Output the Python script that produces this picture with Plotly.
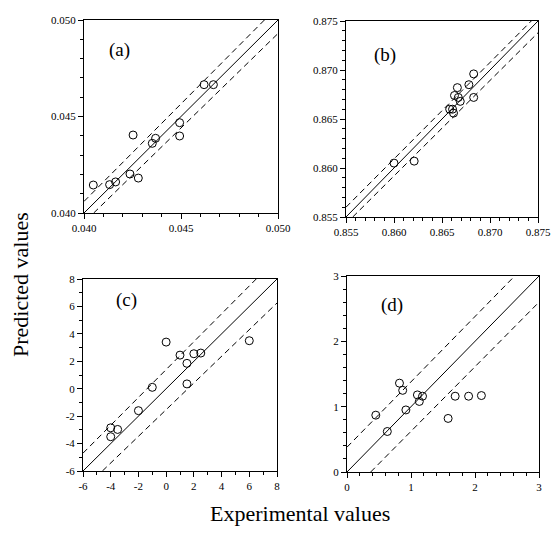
import numpy as np
import plotly.graph_objects as go

# ---------------- data ----------------
a_exp = [0.04048, 0.04132, 0.04163, 0.04237, 0.04280, 0.04253, 0.04352, 0.04369, 0.04493, 0.04493, 0.04619, 0.04667]
a_pred = [0.04145, 0.04147, 0.04161, 0.04202, 0.04181, 0.04404, 0.04361, 0.04387, 0.04468, 0.04399, 0.04665, 0.04665]
a_upper_x = [0.0400, 0.0493]
a_upper_y = [0.0406, 0.0500]
a_lower_x = [0.0405, 0.0500]
a_lower_y = [0.0400, 0.0493]

b_exp = [0.8600, 0.8621, 0.8658, 0.8661, 0.8662, 0.8663, 0.8666, 0.8667, 0.8669, 0.8678, 0.8683, 0.8683]
b_pred = [0.8605, 0.8607, 0.8660, 0.8660, 0.8656, 0.8674, 0.8682, 0.8672, 0.8668, 0.8685, 0.8696, 0.8672]
b_upper_x = [0.8550, 0.8743]
b_upper_y = [0.8560, 0.8750]
b_lower_x = [0.8557, 0.8750]
b_lower_y = [0.8550, 0.8738]

c_exp = [0.0, 6.0, 1.0, 2.0, 2.5, 1.5, 1.5, -1.0, -2.0, -4.0, -3.5, -4.0]
c_pred = [3.4, 3.5, 2.45, 2.55, 2.6, 1.85, 0.35, 0.1, -1.6, -2.85, -2.97, -3.5]
c_upper_x = [-6.0, 6.5]
c_upper_y = [-4.7, 8.0]
c_lower_x = [-4.6, 8.0]
c_lower_y = [-6.0, 6.25]

d_exp = [0.82, 0.87, 1.10, 1.18, 1.13, 0.92, 0.45, 0.63, 1.58, 1.69, 1.90, 2.10]
d_pred = [1.36, 1.25, 1.18, 1.16, 1.08, 0.95, 0.87, 0.62, 0.82, 1.16, 1.16, 1.17]
d_upper_x = [0.0, 2.62]
d_upper_y = [0.38, 3.0]
d_lower_x = [0.37, 3.0]
d_lower_y = [0.0, 2.6]

a_range = [0.040, 0.050]
a_ticks = [0.040, 0.045, 0.050]
a_ticktext = ["0.040", "0.045", "0.050"]
b_range = [0.855, 0.875]
b_ticks = [0.855, 0.860, 0.865, 0.870, 0.875]
b_ticktext = ["0.855", "0.860", "0.865", "0.870", "0.875"]
c_range = [-6, 8]
c_ticks = [-6, -4, -2, 0, 2, 4, 6, 8]
c_ticktext = ["-6", "-4", "-2", "0", "2", "4", "6", "8"]
d_range = [0, 3]
d_ticks = [0, 1, 2, 3]
d_ticktext = ["0", "1", "2", "3"]

panel_labels = ["(a)", "(b)", "(c)", "(d)"]
x_title = "Experimental values"
y_title = "Predicted values"

# ---------------- figure ----------------
W, H = 553, 533
FONT = "Liberation Serif"

panels = [
    dict(exp=a_exp, pred=a_pred, ux=a_upper_x, uy=a_upper_y, lx=a_lower_x, ly=a_lower_y,
         rng=a_range, ticks=a_ticks, tt=a_ticktext, minor=0.001,
         px=(84, 278), py=(20, 213), lab=(107, 50)),
    dict(exp=b_exp, pred=b_pred, ux=b_upper_x, uy=b_upper_y, lx=b_lower_x, ly=b_lower_y,
         rng=b_range, ticks=b_ticks, tt=b_ticktext, minor=0.001,
         px=(346, 538), py=(21, 217), lab=(372, 55)),
    dict(exp=c_exp, pred=c_pred, ux=c_upper_x, uy=c_upper_y, lx=c_lower_x, ly=c_lower_y,
         rng=c_range, ticks=c_ticks, tt=c_ticktext, minor=1,
         px=(83, 277), py=(279, 471), lab=(114, 300)),
    dict(exp=d_exp, pred=d_pred, ux=d_upper_x, uy=d_upper_y, lx=d_lower_x, ly=d_lower_y,
         rng=d_range, ticks=d_ticks, tt=d_ticktext, minor=0.2,
         px=(347, 539), py=(276, 472), lab=(379, 305)),
]


def fx(px):
    return px / W


def fy(py):
    return 1 - py / H


fig = go.Figure()
layout = dict(
    width=W, height=H,
    margin=dict(l=0, r=0, t=0, b=0, autoexpand=False),
    paper_bgcolor="white", plot_bgcolor="white",
    showlegend=False,
    font=dict(family=FONT, color="black"),
)
annotations = []

for i, p in enumerate(panels):
    n = "" if i == 0 else str(i + 1)
    xa, ya = "x" + n, "y" + n
    lo, hi = p["rng"]
    fig.add_trace(go.Scatter(x=p["rng"], y=p["rng"], mode="lines",
                             line=dict(color="black", width=1), xaxis=xa, yaxis=ya,
                             hoverinfo="skip"))
    fig.add_trace(go.Scatter(x=p["ux"], y=p["uy"], mode="lines",
                             line=dict(color="black", width=1, dash="6px,4px"),
                             xaxis=xa, yaxis=ya, hoverinfo="skip"))
    fig.add_trace(go.Scatter(x=p["lx"], y=p["ly"], mode="lines",
                             line=dict(color="black", width=1, dash="6px,4px"),
                             xaxis=xa, yaxis=ya, hoverinfo="skip"))
    fig.add_trace(go.Scatter(x=p["exp"], y=p["pred"], mode="markers",
                             marker=dict(symbol="circle-open", size=8, color="black",
                                         line=dict(width=1, color="black")),
                             xaxis=xa, yaxis=ya))
    minor_vals = [float(v) for v in np.round(np.arange(lo, hi + p["minor"] / 2, p["minor"]), 6)]
    x0, x1 = p["px"]
    y0, y1 = p["py"]
    common = dict(
        range=p["rng"], tickmode="array", tickvals=p["ticks"], ticktext=p["tt"],
        showgrid=False, zeroline=False, showline=True, mirror=True,
        linecolor="black", linewidth=1, ticks="outside", ticklen=5,
        tickcolor="black", tickwidth=1, automargin=False,
        tickfont=dict(family=FONT, size=11, color="black"),
        minor=dict(tickmode="array", tickvals=minor_vals, ticks="outside", ticklen=3,
                   tickcolor="black", tickwidth=1, showgrid=False),
    )
    layout["xaxis" + n] = dict(common, domain=[fx(x0), fx(x1)], anchor=ya)
    layout["yaxis" + n] = dict(common, domain=[fy(y1), fy(y0)], anchor=xa)
    lx, ly = p["lab"]
    annotations.append(dict(text=panel_labels[i], xref="paper", yref="paper",
                            x=fx(lx), y=fy(ly), xanchor="left", yanchor="middle",
                            showarrow=False, font=dict(family=FONT, size=19, color="black")))

annotations.append(dict(text=x_title, xref="paper", yref="paper", x=fx(300), y=fy(513),
                        xanchor="center", yanchor="middle", showarrow=False,
                        font=dict(family=FONT, size=22, color="black")))
annotations.append(dict(text=y_title, xref="paper", yref="paper", x=fx(20), y=fy(285),
                        xanchor="center", yanchor="middle", showarrow=False, textangle=-90,
                        font=dict(family=FONT, size=22, color="black")))
layout["annotations"] = annotations
fig.update_layout(**layout)
fig.write_html("out.html",
               config={"displayModeBar": False},
               post_script="document.body.style.margin='0';document.body.style.padding='0';")
